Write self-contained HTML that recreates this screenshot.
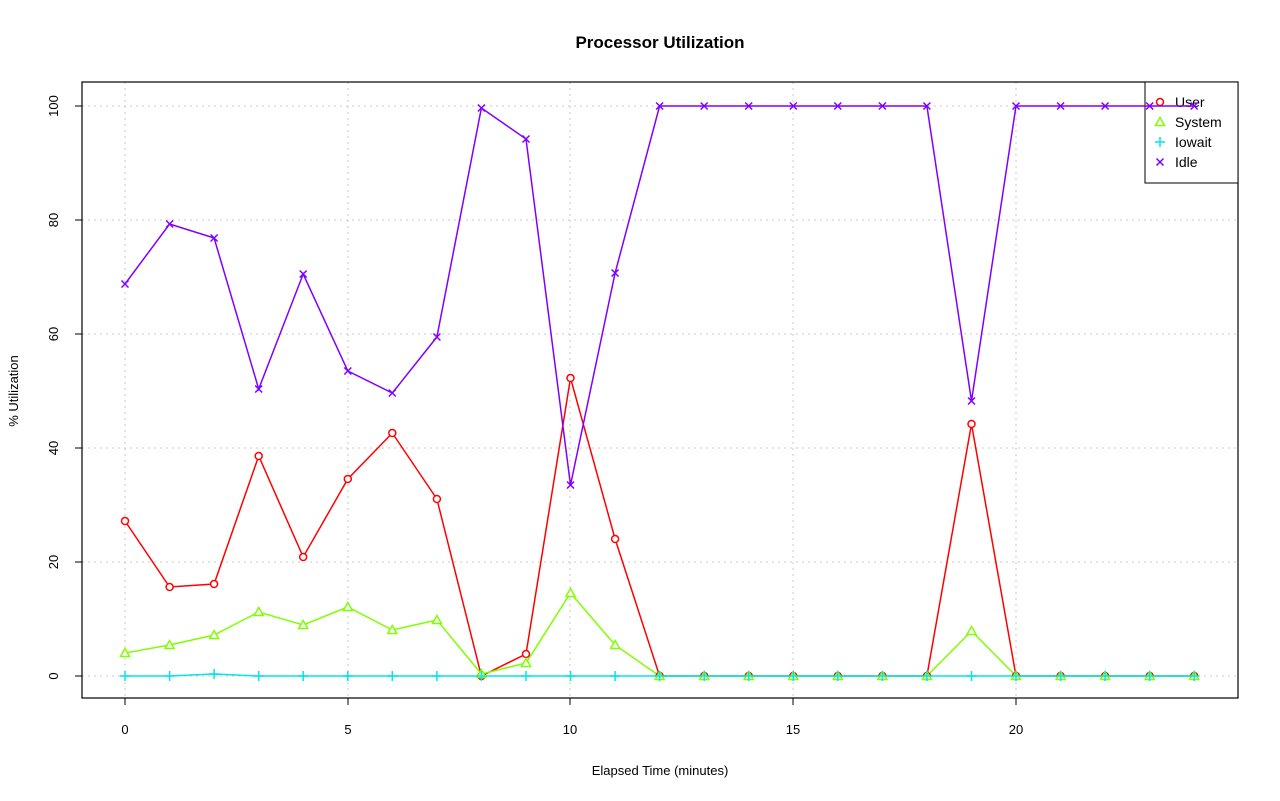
<!DOCTYPE html>
<html><head><style>body{margin:0;background:#fff}svg{display:block}text{font-family:"Liberation Sans",Arial,sans-serif}</style></head><body>
<svg width="1280" height="801" viewBox="0 0 1280 801" xmlns="http://www.w3.org/2000/svg" xmlns:xlink="http://www.w3.org/1999/xlink">
<defs>
<circle id="c" r="3.5" fill="#fff" stroke="#f00" stroke-width="1.5"/>
<path id="t" d="M0 -4.5L4.5 3.5L-4.5 3.5Z" fill="#fff" stroke="#7fff00" stroke-width="1.5"/>
<path id="p" d="M-5 0h10M0 -5v10" stroke="#00e5ee" stroke-width="1.5"/>
<path id="x" d="M-3.5 -3.5l7 7M3.5 -3.5l-7 7" stroke="#8000ff" stroke-width="1.5"/>
</defs>
<rect width="1280" height="801" fill="#fff"/>
<text x="660" y="48" font-size="17" font-weight="bold" text-anchor="middle">Processor Utilization</text>
<g stroke="#c8c8c8" stroke-dasharray="2,4" stroke-width="1">
<line x1="125" y1="82" x2="125" y2="698"/><line x1="348" y1="82" x2="348" y2="698"/><line x1="570" y1="82" x2="570" y2="698"/><line x1="793" y1="82" x2="793" y2="698"/><line x1="1016" y1="82" x2="1016" y2="698"/>
<line x1="82" y1="676" x2="1238" y2="676"/><line x1="82" y1="562" x2="1238" y2="562"/><line x1="82" y1="448" x2="1238" y2="448"/><line x1="82" y1="334" x2="1238" y2="334"/><line x1="82" y1="220" x2="1238" y2="220"/><line x1="82" y1="106" x2="1238" y2="106"/>
</g>
<rect x="82" y="82" width="1156" height="616" fill="none" stroke="#000" stroke-width="1.2"/>
<g stroke="#000"><line x1="125" y1="698" x2="1016" y2="698"/>
<line x1="125" y1="698" x2="125" y2="705"/><line x1="348" y1="698" x2="348" y2="705"/><line x1="570" y1="698" x2="570" y2="705"/><line x1="793" y1="698" x2="793" y2="705"/><line x1="1016" y1="698" x2="1016" y2="705"/>
<line x1="82" y1="676" x2="82" y2="106"/>
<line x1="75" y1="676" x2="82" y2="676"/><line x1="75" y1="562" x2="82" y2="562"/><line x1="75" y1="448" x2="82" y2="448"/><line x1="75" y1="334" x2="82" y2="334"/><line x1="75" y1="220" x2="82" y2="220"/><line x1="75" y1="106" x2="82" y2="106"/></g>
<g font-size="13" text-anchor="middle"><text x="125" y="734">0</text><text x="348" y="734">5</text><text x="570" y="734">10</text><text x="793" y="734">15</text><text x="1016" y="734">20</text>
<text x="660" y="775">Elapsed Time (minutes)</text>
<text transform="translate(18,391) rotate(-90)">% Utilization</text>
<text transform="translate(58,676) rotate(-90)">0</text><text transform="translate(58,562) rotate(-90)">20</text><text transform="translate(58,448) rotate(-90)">40</text><text transform="translate(58,334) rotate(-90)">60</text><text transform="translate(58,220) rotate(-90)">80</text><text transform="translate(58,106) rotate(-90)">100</text></g>
<rect x="1145" y="82" width="93" height="101" fill="#fff" stroke="#000"/>
<g font-size="14"><text x="1175" y="107">User</text><text x="1175" y="127">System</text><text x="1175" y="147">Iowait</text><text x="1175" y="167">Idle</text></g>
<use xlink:href="#c" href="#c" x="1160" y="102"/>
<use xlink:href="#t" href="#t" x="1160" y="122"/>
<use xlink:href="#p" href="#p" x="1160" y="142"/>
<use xlink:href="#x" href="#x" x="1160" y="162"/>

<g fill="none" stroke-width="1.5">
<polyline stroke="#f00" points="125,521 169.6,587 214.1,584 258.7,456 303.2,557 347.8,479 392.3,433 436.9,499 481.4,676 526,654 570.5,378 615.1,539 659.6,676 704.2,676 748.7,676 793.3,676 837.8,676 882.4,676 926.9,676 971.5,424 1016,676 1060.6,676 1105.1,676 1149.7,676 1194.2,676"/>
<polyline stroke="#7fff00" points="125,653 169.6,645 214.1,635 258.7,612 303.2,625 347.8,607 392.3,630 436.9,620 481.4,674 526,663 570.5,593 615.1,645 659.6,676 704.2,676 748.7,676 793.3,676 837.8,676 882.4,676 926.9,676 971.5,631 1016,676 1060.6,676 1105.1,676 1149.7,676 1194.2,676"/>
<polyline stroke="#00e5ee" points="125,676 169.6,676 214.1,674 258.7,676 303.2,676 347.8,676 392.3,676 436.9,676 481.4,676 526,676 570.5,676 615.1,676 659.6,676 704.2,676 748.7,676 793.3,676 837.8,676 882.4,676 926.9,676 971.5,676 1016,676 1060.6,676 1105.1,676 1149.7,676 1194.2,676"/>
<polyline stroke="#8000ff" points="125,284 169.6,224 214.1,238 258.7,389 303.2,274 347.8,371 392.3,393 436.9,337 481.4,108 526,139 570.5,485 615.1,273 659.6,106 704.2,106 748.7,106 793.3,106 837.8,106 882.4,106 926.9,106 971.5,401 1016,106 1060.6,106 1105.1,106 1149.7,106 1194.2,106"/>
</g>

<g>
<use href="#c" x="125" y="521"/><use href="#c" x="169.6" y="587"/><use href="#c" x="214.1" y="584"/><use href="#c" x="258.7" y="456"/><use href="#c" x="303.2" y="557"/><use href="#c" x="347.8" y="479"/><use href="#c" x="392.3" y="433"/><use href="#c" x="436.9" y="499"/><use href="#c" x="481.4" y="676"/><use href="#c" x="526" y="654"/><use href="#c" x="570.5" y="378"/><use href="#c" x="615.1" y="539"/><use href="#c" x="659.6" y="676"/><use href="#c" x="704.2" y="676"/><use href="#c" x="748.7" y="676"/><use href="#c" x="793.3" y="676"/><use href="#c" x="837.8" y="676"/><use href="#c" x="882.4" y="676"/><use href="#c" x="926.9" y="676"/><use href="#c" x="971.5" y="424"/><use href="#c" x="1016" y="676"/><use href="#c" x="1060.6" y="676"/><use href="#c" x="1105.1" y="676"/><use href="#c" x="1149.7" y="676"/><use href="#c" x="1194.2" y="676"/>
</g>
<g>
<use href="#t" x="125" y="653"/><use href="#t" x="169.6" y="645"/><use href="#t" x="214.1" y="635"/><use href="#t" x="258.7" y="612"/><use href="#t" x="303.2" y="625"/><use href="#t" x="347.8" y="607"/><use href="#t" x="392.3" y="630"/><use href="#t" x="436.9" y="620"/><use href="#t" x="481.4" y="674"/><use href="#t" x="526" y="663"/><use href="#t" x="570.5" y="593"/><use href="#t" x="615.1" y="645"/><use href="#t" x="659.6" y="676"/><use href="#t" x="704.2" y="676"/><use href="#t" x="748.7" y="676"/><use href="#t" x="793.3" y="676"/><use href="#t" x="837.8" y="676"/><use href="#t" x="882.4" y="676"/><use href="#t" x="926.9" y="676"/><use href="#t" x="971.5" y="631"/><use href="#t" x="1016" y="676"/><use href="#t" x="1060.6" y="676"/><use href="#t" x="1105.1" y="676"/><use href="#t" x="1149.7" y="676"/><use href="#t" x="1194.2" y="676"/>
</g>
<g>
<use href="#p" x="125" y="676"/><use href="#p" x="169.6" y="676"/><use href="#p" x="214.1" y="674"/><use href="#p" x="258.7" y="676"/><use href="#p" x="303.2" y="676"/><use href="#p" x="347.8" y="676"/><use href="#p" x="392.3" y="676"/><use href="#p" x="436.9" y="676"/><use href="#p" x="481.4" y="676"/><use href="#p" x="526" y="676"/><use href="#p" x="570.5" y="676"/><use href="#p" x="615.1" y="676"/><use href="#p" x="659.6" y="676"/><use href="#p" x="704.2" y="676"/><use href="#p" x="748.7" y="676"/><use href="#p" x="793.3" y="676"/><use href="#p" x="837.8" y="676"/><use href="#p" x="882.4" y="676"/><use href="#p" x="926.9" y="676"/><use href="#p" x="971.5" y="676"/><use href="#p" x="1016" y="676"/><use href="#p" x="1060.6" y="676"/><use href="#p" x="1105.1" y="676"/><use href="#p" x="1149.7" y="676"/><use href="#p" x="1194.2" y="676"/>
</g>
<g>
<use href="#x" x="125" y="284"/><use href="#x" x="169.6" y="224"/><use href="#x" x="214.1" y="238"/><use href="#x" x="258.7" y="389"/><use href="#x" x="303.2" y="274"/><use href="#x" x="347.8" y="371"/><use href="#x" x="392.3" y="393"/><use href="#x" x="436.9" y="337"/><use href="#x" x="481.4" y="108"/><use href="#x" x="526" y="139"/><use href="#x" x="570.5" y="485"/><use href="#x" x="615.1" y="273"/><use href="#x" x="659.6" y="106"/><use href="#x" x="704.2" y="106"/><use href="#x" x="748.7" y="106"/><use href="#x" x="793.3" y="106"/><use href="#x" x="837.8" y="106"/><use href="#x" x="882.4" y="106"/><use href="#x" x="926.9" y="106"/><use href="#x" x="971.5" y="401"/><use href="#x" x="1016" y="106"/><use href="#x" x="1060.6" y="106"/><use href="#x" x="1105.1" y="106"/><use href="#x" x="1149.7" y="106"/><use href="#x" x="1194.2" y="106"/>
</g>
</svg>
</body></html>
